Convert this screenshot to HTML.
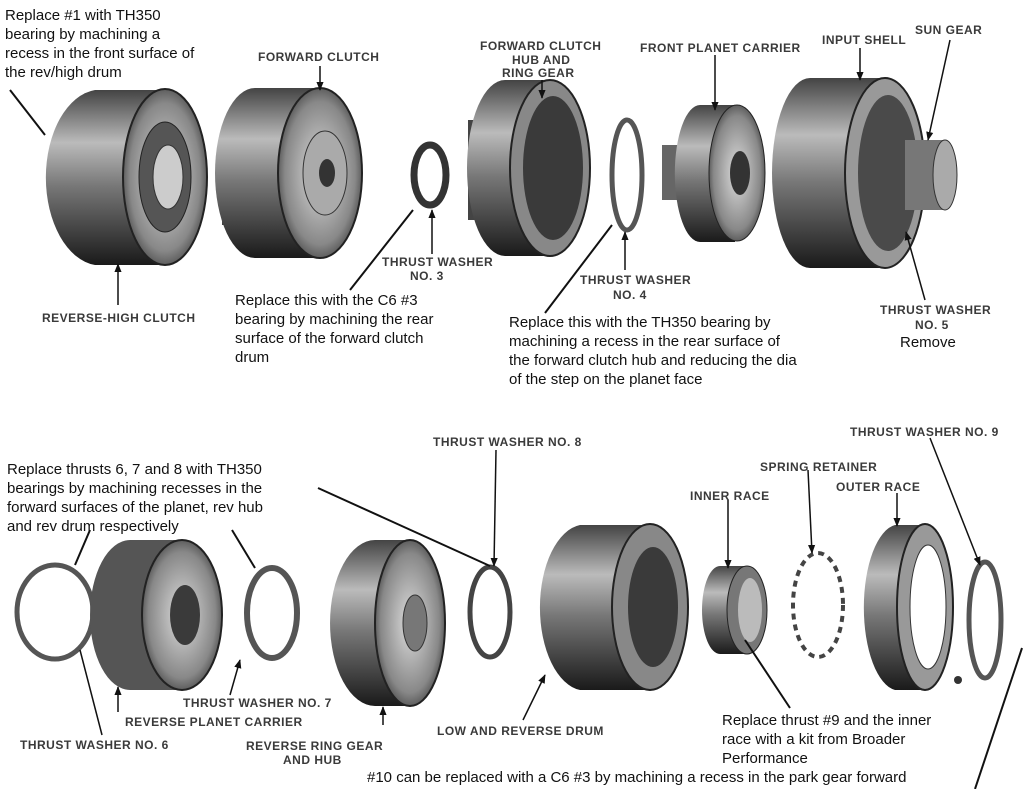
<!DOCTYPE html>
<html><head><meta charset="utf-8"><style>
html,body{margin:0;padding:0;background:#fff;width:1024px;height:789px;overflow:hidden}
svg{display:block}
.c{font-family:"Liberation Sans",sans-serif;font-size:12px;font-weight:bold;letter-spacing:0.5px;fill:#3a3a3a}
.n{font-family:"Liberation Sans",sans-serif;font-size:15px;fill:#111}
</style></head><body>
<svg width="1024" height="789" viewBox="0 0 1024 789" xmlns="http://www.w3.org/2000/svg">
<defs>
<linearGradient id="body" x1="0" y1="0" x2="0" y2="1">
<stop offset="0" stop-color="#444"/><stop offset="0.3" stop-color="#bbb"/><stop offset="0.55" stop-color="#777"/><stop offset="1" stop-color="#1a1a1a"/>
</linearGradient>
<radialGradient id="face" cx="0.5" cy="0.5" r="0.6">
<stop offset="0" stop-color="#ddd"/><stop offset="0.7" stop-color="#888"/><stop offset="1" stop-color="#2a2a2a"/>
</radialGradient>
<marker id="a" viewBox="0 0 10 10" refX="9" refY="5" markerWidth="6" markerHeight="6" orient="auto"><path d="M0 1 L10 5 L0 9Z" fill="#111"/></marker>
</defs>
<rect width="1024" height="789" fill="#fff"/>

<path d="M95 90 L165 90 L165 265 L95 265 A55 88 0 0 1 95 90Z" fill="url(#body)"/>
<ellipse cx="165" cy="177" rx="42" ry="88" fill="url(#face)" stroke="#222" stroke-width="2"/>
<ellipse cx="165" cy="177" rx="26" ry="55" fill="#555" stroke="#222"/>
<ellipse cx="168" cy="177" rx="15" ry="32" fill="#ccc" stroke="#333"/>
<rect x="222" y="125" width="30" height="100" fill="#444"/>
<path d="M255 88 L320 88 L320 258 L255 258 A40 85 0 0 1 255 88Z" fill="url(#body)"/>
<ellipse cx="320" cy="173" rx="42" ry="85" fill="url(#face)" stroke="#222" stroke-width="2"/>
<ellipse cx="325" cy="173" rx="22" ry="42" fill="#aaa" stroke="#333"/>
<ellipse cx="327" cy="173" rx="8" ry="14" fill="#333"/>
<ellipse cx="430" cy="175" rx="16" ry="30" fill="none" stroke="#333" stroke-width="7"/>
<rect x="468" y="120" width="30" height="100" fill="#444"/>
<path d="M505 80 L550 80 L550 256 L505 256 A38 88 0 0 1 505 80Z" fill="url(#body)"/>
<ellipse cx="550" cy="168" rx="40" ry="88" fill="#888" stroke="#222" stroke-width="2"/>
<ellipse cx="553" cy="168" rx="30" ry="72" fill="#3a3a3a"/>
<ellipse cx="627" cy="175" rx="15" ry="55" fill="none" stroke="#555" stroke-width="5"/>
<rect x="662" y="145" width="30" height="55" fill="#666"/>
<path d="M700 105 L735 105 L735 242 L700 242 A25 68 0 0 1 700 105Z" fill="url(#body)"/>
<ellipse cx="737" cy="173" rx="28" ry="68" fill="url(#face)" stroke="#222"/>
<ellipse cx="740" cy="173" rx="10" ry="22" fill="#333"/>
<path d="M810 78 L885 78 L885 268 L810 268 A38 95 0 0 1 810 78Z" fill="url(#body)"/>
<ellipse cx="885" cy="173" rx="40" ry="95" fill="#999" stroke="#222" stroke-width="2"/>
<ellipse cx="888" cy="173" rx="30" ry="78" fill="#4a4a4a"/>
<rect x="905" y="140" width="40" height="70" fill="#777"/>
<ellipse cx="945" cy="175" rx="12" ry="35" fill="#aaa" stroke="#333"/>

<ellipse cx="55" cy="612" rx="38" ry="47" fill="none" stroke="#555" stroke-width="5"/>
<path d="M130 540 L180 540 L180 690 L130 690 A40 75 0 0 1 130 540Z" fill="#555"/>
<ellipse cx="182" cy="615" rx="40" ry="75" fill="url(#face)" stroke="#222" stroke-width="2"/>
<ellipse cx="185" cy="615" rx="15" ry="30" fill="#3a3a3a"/>
<ellipse cx="272" cy="613" rx="25" ry="45" fill="none" stroke="#555" stroke-width="6"/>
<path d="M375 540 L410 540 L410 706 L375 706 A45 83 0 0 1 375 540Z" fill="url(#body)"/>
<ellipse cx="410" cy="623" rx="35" ry="83" fill="url(#face)" stroke="#222" stroke-width="2"/>
<ellipse cx="415" cy="623" rx="12" ry="28" fill="#777" stroke="#333"/>
<ellipse cx="490" cy="612" rx="20" ry="45" fill="none" stroke="#444" stroke-width="5"/>
<path d="M580 525 L650 525 L650 690 L580 690 A45 83 0 0 1 580 525Z" fill="url(#body)"/>
<ellipse cx="650" cy="607" rx="38" ry="83" fill="#888" stroke="#222" stroke-width="2"/>
<ellipse cx="653" cy="607" rx="25" ry="60" fill="#3a3a3a"/>
<path d="M720 566 L745 566 L745 654 L720 654 A18 44 0 0 1 720 566Z" fill="url(#body)"/>
<ellipse cx="747" cy="610" rx="20" ry="44" fill="#777" stroke="#222"/>
<ellipse cx="750" cy="610" rx="12" ry="32" fill="#bbb"/>
<ellipse cx="818" cy="605" rx="25" ry="52" fill="none" stroke="#444" stroke-width="4" stroke-dasharray="6 5"/>
<path d="M895 525 L925 525 L925 690 L895 690 A35 83 0 0 1 895 525Z" fill="url(#body)"/>
<ellipse cx="925" cy="607" rx="28" ry="83" fill="#999" stroke="#222" stroke-width="2"/>
<ellipse cx="928" cy="607" rx="18" ry="62" fill="#fff" stroke="#333"/>
<ellipse cx="985" cy="620" rx="16" ry="58" fill="none" stroke="#555" stroke-width="5"/>
<circle cx="958" cy="680" r="4" fill="#333"/>

<g stroke="#111" stroke-width="2" fill="none">
<line x1="10" y1="90" x2="45" y2="135"/>
<line x1="350" y1="290" x2="413" y2="210"/>
<line x1="545" y1="313" x2="612" y2="225"/>
<line x1="318" y1="488" x2="490" y2="566"/>
<line x1="90" y1="530" x2="75" y2="565"/>
<line x1="232" y1="530" x2="255" y2="568"/>
<line x1="745" y1="640" x2="790" y2="708"/>
<line x1="975" y1="789" x2="1022" y2="648"/>
</g>
<g stroke="#111" stroke-width="1.5" fill="none" marker-end="url(#a)">
<line x1="320" y1="66" x2="320" y2="90"/>
<line x1="118" y1="305" x2="118" y2="264"/>
<line x1="432" y1="254" x2="432" y2="210"/>
<line x1="542" y1="80" x2="542" y2="98"/>
<line x1="715" y1="55" x2="715" y2="110"/>
<line x1="860" y1="48" x2="860" y2="80"/>
<line x1="950" y1="40" x2="928" y2="140"/>
<line x1="625" y1="270" x2="625" y2="232"/>
<line x1="925" y1="300" x2="906" y2="232"/>
<line x1="496" y1="450" x2="494" y2="566"/>
<line x1="80" y1="650" x2="102" y2="735" marker-end="none"/>
<line x1="118" y1="712" x2="118" y2="687"/>
<line x1="230" y1="695" x2="240" y2="660"/>
<line x1="383" y1="725" x2="383" y2="707"/>
<line x1="523" y1="720" x2="545" y2="675"/>
<line x1="728" y1="500" x2="728" y2="568"/>
<line x1="808" y1="470" x2="812" y2="553"/>
<line x1="897" y1="493" x2="897" y2="526"/>
<line x1="930" y1="438" x2="980" y2="565"/>
</g>

<text class="c" x="258" y="61">FORWARD CLUTCH</text>
<text class="c" x="480" y="50">FORWARD CLUTCH</text>
<text class="c" x="512" y="64">HUB AND</text>
<text class="c" x="502" y="77">RING GEAR</text>
<text class="c" x="640" y="52">FRONT PLANET CARRIER</text>
<text class="c" x="822" y="44">INPUT SHELL</text>
<text class="c" x="915" y="34">SUN GEAR</text>
<text class="c" x="382" y="266">THRUST WASHER</text>
<text class="c" x="410" y="280">NO. 3</text>
<text class="c" x="42" y="322">REVERSE-HIGH CLUTCH</text>
<text class="c" x="580" y="284">THRUST WASHER</text>
<text class="c" x="613" y="299">NO. 4</text>
<text class="c" x="880" y="314">THRUST WASHER</text>
<text class="c" x="915" y="329">NO. 5</text>
<text class="c" x="433" y="446">THRUST WASHER NO. 8</text>
<text class="c" x="850" y="436">THRUST WASHER NO. 9</text>
<text class="c" x="760" y="471">SPRING RETAINER</text>
<text class="c" x="690" y="500">INNER RACE</text>
<text class="c" x="836" y="491">OUTER RACE</text>
<text class="c" x="183" y="707">THRUST WASHER NO. 7</text>
<text class="c" x="125" y="726">REVERSE PLANET CARRIER</text>
<text class="c" x="20" y="749">THRUST WASHER NO. 6</text>
<text class="c" x="246" y="750">REVERSE RING GEAR</text>
<text class="c" x="283" y="764">AND HUB</text>
<text class="c" x="437" y="735">LOW AND REVERSE DRUM</text>

<text class="n" x="5" y="20">Replace #1 with TH350</text>
<text class="n" x="5" y="39">bearing by machining a</text>
<text class="n" x="5" y="58">recess in the front surface of</text>
<text class="n" x="5" y="77">the rev/high drum</text>
<text class="n" x="235" y="305">Replace this with the C6 #3</text>
<text class="n" x="235" y="324">bearing by machining the rear</text>
<text class="n" x="235" y="343">surface of the forward clutch</text>
<text class="n" x="235" y="362">drum</text>
<text class="n" x="509" y="327">Replace this with the TH350 bearing by</text>
<text class="n" x="509" y="346">machining a recess in the rear surface of</text>
<text class="n" x="509" y="365">the forward clutch hub and reducing the dia</text>
<text class="n" x="509" y="384">of the step on the planet face</text>
<text class="n" x="900" y="347">Remove</text>
<text class="n" x="7" y="474">Replace thrusts 6, 7 and 8 with TH350</text>
<text class="n" x="7" y="493">bearings by machining recesses in the</text>
<text class="n" x="7" y="512">forward surfaces of the planet, rev hub</text>
<text class="n" x="7" y="531">and rev drum respectively</text>
<text class="n" x="722" y="725">Replace thrust #9 and the inner</text>
<text class="n" x="722" y="744">race with a kit from Broader</text>
<text class="n" x="722" y="763">Performance</text>
<text class="n" x="367" y="782">#10 can be replaced with a C6 #3 by machining a recess in the park gear forward</text>
</svg>
</body></html>
